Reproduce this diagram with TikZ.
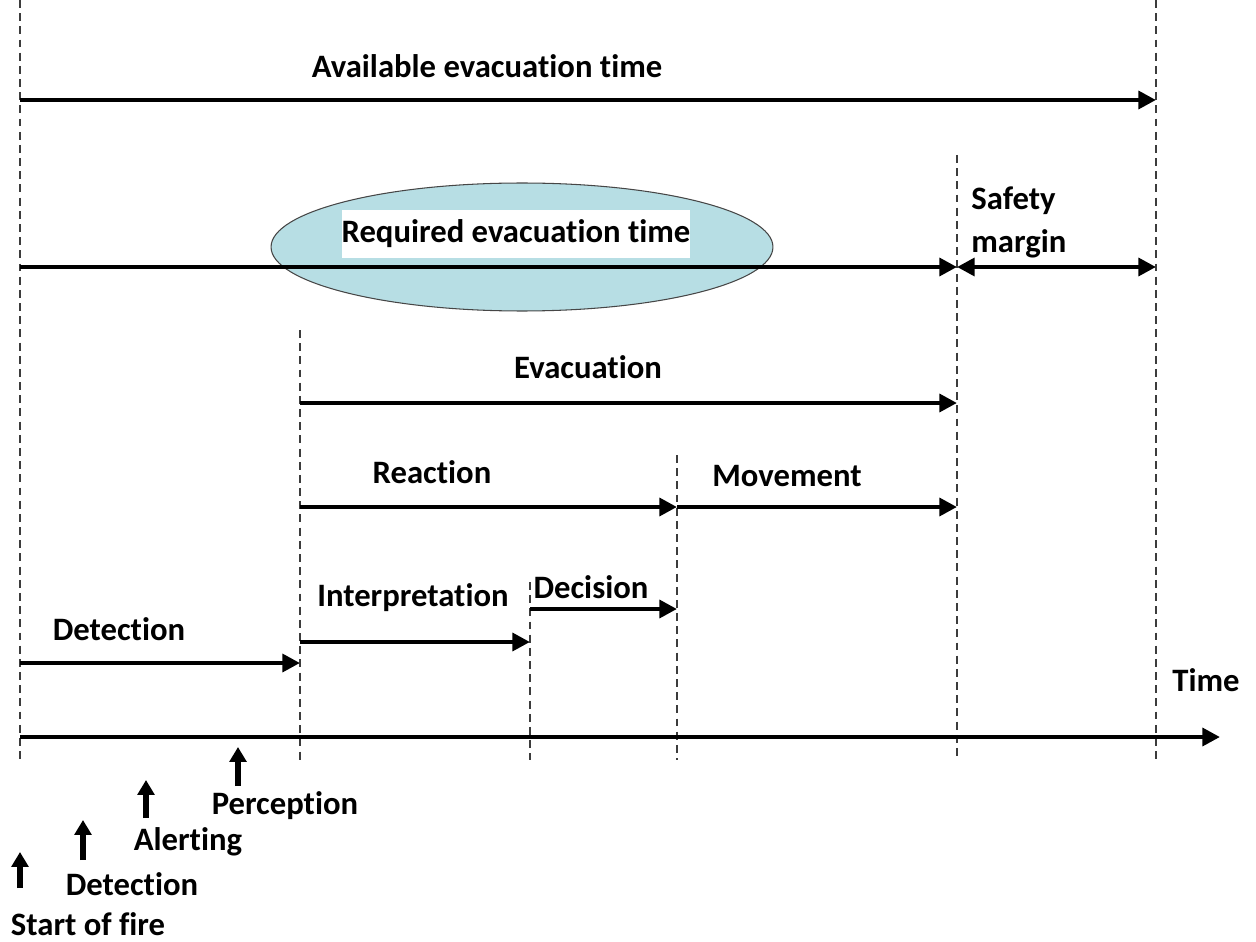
\documentclass[tikz,border=0pt]{standalone}
\usepackage{fontspec}
\setmainfont{Carlito}[Ligatures=NoCommon]
\usetikzlibrary{arrows.meta,shapes.geometric,positioning}
\definecolor{evacaqua}{RGB}{183,222,228}
\definecolor{evacedge}{RGB}{70,70,70}
\definecolor{markgray}{RGB}{60,60,60}

\begin{document}
\begin{tikzpicture}[x=0.02cm,y=-0.02cm,
  every node/.style={font=\fontsize{18.6}{22}\selectfont\bfseries},
  tarrow/.style={line width=2.7pt,-{Triangle[length=10pt,width=10pt]}},
  tdouble/.style={line width=2.7pt,
    {Triangle[length=10pt,width=10pt]}-{Triangle[length=10pt,width=10pt]}},
  evtarrow/.style={line width=3pt,-{Triangle[length=8.5pt,width=9.5pt]}},
  marker/.style={draw=markgray,line width=0.8pt,dash pattern=on 4.5pt off 3pt},
  reqell/.style={ellipse,draw=evacedge,line width=0.6pt,fill=evacaqua,
                 minimum width=10.04cm,minimum height=2.56cm},
]
\useasboundingbox (0,0) rectangle (1256,942);

%% Time points on the axis
\coordinate (t0) at (20,0);
\coordinate (t1) at (300,0);
\coordinate (t2) at (530,0);
\coordinate (t3) at (677,0);
\coordinate (t4) at (957,0);
\coordinate (t5) at (1156,0);
\coordinate (tend) at (1220,0);

%% Rows
\coordinate (rAvail) at (0,100);
\coordinate (rReq)   at (0,267);
\coordinate (rEvac)  at (0,403);
\coordinate (rReact) at (0,507);
\coordinate (rDec)   at (0,609);
\coordinate (rInt)   at (0,642);
\coordinate (rDet)   at (0,663);
\coordinate (rAxis)  at (0,737);

%% Dashed time markers
\foreach \x/\top in {20/0,300/330,530/582,677/455,957/155,1156/0}
  \draw[marker] (\x,\top) -- (\x,760);

%% Available evacuation time
\node (availlbl) at (487,66) {Available evacuation time};
\draw[tarrow] (t0 |- rAvail) -- (t5 |- rAvail);

%% Required evacuation time
\node[reqell] (reqbubble) at (522,247) {};
\draw[tarrow] (t0 |- rReq) -- (t4 |- rReq);
\node[fill=white,minimum width=6.96cm,minimum height=0.96cm,inner sep=0pt] (reqlbl)
  at (516,234) {Required evacuation time};

%% Safety margin
\draw[tdouble] (t4 |- rReq) -- (t5 |- rReq);
\node[anchor=north west,align=left,inner sep=0pt,
      font=\fontsize{18.6}{25}\selectfont\bfseries] (safelbl)
  at (971,186) {Safety\\margin};

%% Evacuation
\node (evaclbl) at (588,367) {Evacuation};
\draw[tarrow] (t1 |- rEvac) -- (t4 |- rEvac);

%% Reaction and movement
\node (reactlbl) at (432,472) {Reaction};
\draw[tarrow] (t1 |- rReact) -- (t3 |- rReact);
\node (movelbl) at (787,476) {Movement};
\draw[tarrow] (t3 |- rReact) -- (t4 |- rReact);

%% Interpretation and decision
\node (intlbl) at (413,598) {Interpretation};
\draw[tarrow] (t1 |- rInt) -- (t2 |- rInt);
\node (declbl) at (591,587) {Decision};
\draw[tarrow] (t2 |- rDec) -- (t3 |- rDec);

%% Detection
\node (detlbl) at (119,629) {Detection};
\draw[tarrow] (t0 |- rDet) -- (t1 |- rDet);

%% Time axis
\node (timelbl) at (1206,680) {Time};
\draw[tarrow] (t0 |- rAxis) -- (tend |- rAxis);

%% Events below the axis
\node[anchor=base,inner sep=1pt] (firelbl) at (88,935) {Start of fire};
\coordinate (fireA) at (20,888);  \coordinate (fireB) at (20,852);
\draw[evtarrow] (fireA) -- (fireB);

\node (detevlbl) at (132,884) {Detection};
\coordinate (detA) at (83,860);   \coordinate (detB) at (83,820);
\draw[evtarrow] (detA) -- (detB);

\node (alertlbl) at (188,842) {Alerting};
\coordinate (alertA) at (146,818); \coordinate (alertB) at (146,780);
\draw[evtarrow] (alertA) -- (alertB);

\node (perclbl) at (285,806) {Perception};
\coordinate (percA) at (238,786); \coordinate (percB) at (238,747);
\draw[evtarrow] (percA) -- (percB);

\end{tikzpicture}
\end{document}
